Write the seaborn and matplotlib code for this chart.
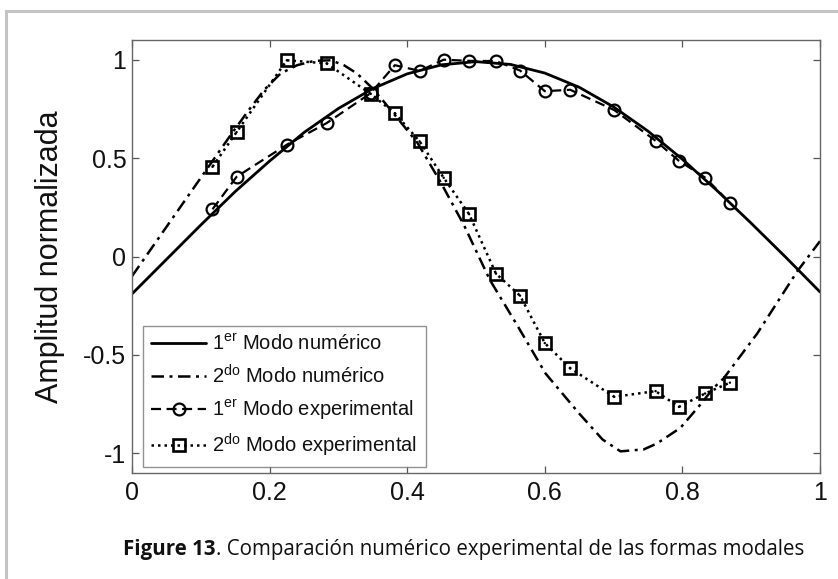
import matplotlib
matplotlib.use("Agg")
import matplotlib.pyplot as plt
import seaborn as sns
import pandas as pd
from matplotlib.patches import Rectangle

sns.set_theme(style="ticks")
plt.rcParams["font.family"] = ["Liberation Sans", "DejaVu Sans"]
plt.rcParams["mathtext.fontset"] = "custom"
plt.rcParams["mathtext.rm"] = "Liberation Sans"
plt.rcParams["mathtext.it"] = "Liberation Sans:italic"

# ---------------- data ----------------
x_mode1_num = [0.00, 0.05, 0.10, 0.15, 0.20, 0.25, 0.30, 0.35, 0.40, 0.45, 0.50,
               0.55, 0.60, 0.65, 0.70, 0.75, 0.80, 0.85, 0.90, 0.95, 1.00]
y_mode1_num = [-0.19, -0.015, 0.16, 0.33, 0.485, 0.63, 0.752, 0.853, 0.928, 0.974, 0.99,
               0.976, 0.932, 0.86, 0.76, 0.637, 0.494, 0.336, 0.169, -0.003, -0.18]

x_mode2_num = [0.00, 0.05, 0.10, 0.146, 0.17, 0.192, 0.216, 0.24, 0.265, 0.289, 0.308,
               0.327, 0.347, 0.366, 0.39, 0.415, 0.449, 0.483, 0.52, 0.561, 0.601,
               0.65, 0.684, 0.71, 0.744, 0.763, 0.797, 0.826, 0.845, 0.86, 0.909,
               0.967, 1.00]
y_mode2_num = [-0.10, 0.15, 0.40, 0.63, 0.745, 0.846, 0.93, 0.972, 0.994, 0.997, 0.972,
               0.93, 0.863, 0.787, 0.685, 0.577, 0.375, 0.156, -0.118, -0.356, -0.594,
               -0.798, -0.93, -0.99, -0.98, -0.95, -0.871, -0.753, -0.669, -0.619, -0.39,
               -0.075, 0.078]

x_exp = [0.117, 0.152, 0.225, 0.283, 0.347, 0.382, 0.418, 0.453, 0.490, 0.529,
         0.564, 0.600, 0.637, 0.701, 0.761, 0.795, 0.833, 0.869]
y_mode1_exp = [0.240, 0.405, 0.568, 0.678, 0.830, 0.972, 0.943, 1.000, 0.994, 0.993,
               0.945, 0.840, 0.847, 0.744, 0.588, 0.486, 0.401, 0.273]
y_mode2_exp = [0.456, 0.632, 0.997, 0.981, 0.826, 0.728, 0.585, 0.400, 0.215, -0.087,
               -0.199, -0.440, -0.568, -0.713, -0.684, -0.764, -0.696, -0.641]

x_ticks = [0, 0.2, 0.4, 0.6, 0.8, 1]
x_tick_labels = ["0", "0.2", "0.4", "0.6", "0.8", "1"]
y_ticks = [-1, -0.5, 0, 0.5, 1]
y_tick_labels = ["-1", "-0.5", "0", "0.5", "1"]

labels = [r"1$^{\mathrm{er}}$ Modo numérico",
          r"2$^{\mathrm{do}}$ Modo numérico",
          r"1$^{\mathrm{er}}$ Modo experimental",
          r"2$^{\mathrm{do}}$ Modo experimental"]
y_label = "Amplitud normalizada"
caption_bold = "Figure 13"
caption_rest = ". Comparación numérico experimental de las formas modales"

# ---------------- figure ----------------
W, H = 838, 579
fig = plt.figure(figsize=(W / 100, H / 100), dpi=100)
fig.patch.set_facecolor("white")
ax = fig.add_axes([132 / W, 1 - 473 / H, (820 - 132) / W, (473 - 40) / H])
ax.set_facecolor("white")

# outer light-gray frame (cut off at right and bottom)
fig.patches.append(Rectangle((6 / W, -0.05), 1.2, 1 - 11 / H + 0.05,
                             transform=fig.transFigure, fill=False,
                             edgecolor="#c4c4c4", linewidth=2.2, zorder=0))

sns.lineplot(x=x_mode1_num, y=y_mode1_num, ax=ax, color="black", lw=2.0,
             linestyle="-", sort=False, label=labels[0])
sns.lineplot(x=x_mode2_num, y=y_mode2_num, ax=ax, color="black", lw=1.8,
             linestyle=(0, (5, 2.2, 1.2, 2.2)), sort=False, label=labels[1])
sns.lineplot(x=x_exp, y=y_mode1_exp, ax=ax, color="black", lw=1.6,
             linestyle=(0, (4.5, 2.5)), marker="o", markersize=8.5,
             markerfacecolor="none", markeredgecolor="black", markeredgewidth=1.6,
             sort=False, label=labels[2])
sns.lineplot(x=x_exp, y=y_mode2_exp, ax=ax, color="black", lw=1.8,
             linestyle=(0, (1, 1.6)), marker="s", markersize=9,
             markerfacecolor="none", markeredgecolor="black", markeredgewidth=1.9,
             sort=False, label=labels[3])
# small centre dots inside the square markers
sns.scatterplot(x=x_exp, y=y_mode2_exp, ax=ax, color="black", s=3,
                edgecolor="none", legend=False)

ax.set_xlim(0, 1)
ax.set_ylim(-1.1, 1.1)
ax.set_xticks(x_ticks)
ax.set_xticklabels(x_tick_labels)
ax.set_yticks(y_ticks)
ax.set_yticklabels(y_tick_labels)
ax.tick_params(direction="in", length=5, width=0.9, color="#555555",
               labelsize=18, top=True, right=True, labelcolor="#111111")
ax.tick_params(axis="x", pad=6)
ax.tick_params(axis="y", pad=4)
for s in ax.spines.values():
    s.set_color("#666666")
    s.set_linewidth(1.0)
ax.set_xlabel("")
ax.set_ylabel(y_label, fontsize=22, color="#111111")
ax.yaxis.set_label_coords(-0.098, 0.5)

leg = ax.legend(loc="lower left", bbox_to_anchor=(0.016, 0.014), fontsize=14.5,
                frameon=True, fancybox=False, edgecolor="#777777",
                handlelength=2.75, handletextpad=0.3, labelspacing=0.5,
                borderpad=0.4, borderaxespad=0.0)
leg.get_frame().set_linewidth(1.0)
for t in leg.get_texts():
    t.set_color("#111111")

# caption
t1 = fig.text(123 / W, 1 - 549 / H, caption_bold, fontsize=14.8, fontweight="bold",
              family="Open Sans", color="#111111", ha="left", va="center")
fig.canvas.draw()
bb = t1.get_window_extent()
fig.text(bb.x1 / W, 1 - 549 / H, caption_rest, fontsize=14.8,
         family="Open Sans", color="#111111", ha="left", va="center")

fig.savefig("out.png", dpi=100, facecolor="white")
